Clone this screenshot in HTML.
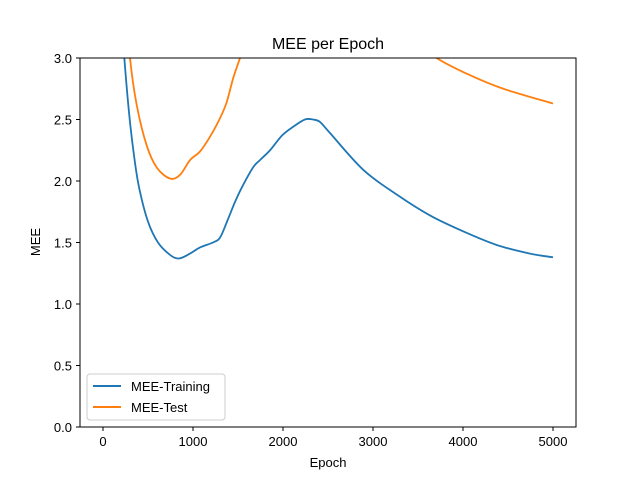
<!DOCTYPE html>
<html><head><meta charset="utf-8"><style>body{margin:0;background:#fff}svg{display:block;font-family:"Liberation Sans",sans-serif}</style></head>
<body>
<svg id="c" width="640" height="480">
<defs><clipPath id="clip"><rect x="80" y="58" width="496" height="369"/></clipPath></defs>
<rect x="0" y="0" width="640" height="480" fill="#fff"/>
<text x="328" y="49" font-size="16" text-anchor="middle">MEE per Epoch</text>
<g id="lines" clip-path="url(#clip)"></g>
<rect x="80" y="58" width="496" height="369" fill="none" stroke="#000" stroke-width="1"/>
<g id="axes"></g>
<text x="328" y="467" font-size="13" text-anchor="middle">Epoch</text>
<text x="40" y="242" font-size="13" text-anchor="middle" transform="rotate(-90 40 242)">MEE</text>
<g>
<rect x="87" y="374" width="138" height="46" rx="3" fill="#fff" fill-opacity="0.8" stroke="#ccc"/>
<line x1="93" y1="386" x2="121" y2="386" stroke="#1f77b4" stroke-width="2"/>
<text x="131" y="391" font-size="13">MEE-Training</text>
<line x1="93" y1="407" x2="121" y2="407" stroke="#ff7f0e" stroke-width="2"/>
<text x="131" y="412" font-size="13">MEE-Test</text>
</g>
</svg>
<script>
const trainEpochs=[200,237,290,344,400,500,611,744,844,967,1078,1222,1300,1378,1467,1544,1667,1744,1856,1989,2111,2244,2333,2411,2522,2893,3263,3633,4004,4374,4744,5000];
const trainValues=[3.4,3.0,2.55,2.21,1.95,1.67,1.50,1.40,1.37,1.41,1.46,1.50,1.54,1.67,1.83,1.95,2.11,2.17,2.25,2.37,2.44,2.50,2.50,2.48,2.39,2.09,1.89,1.72,1.59,1.48,1.41,1.38];
const testEpochs=[250,300,374,485,597,744,856,967,1078,1189,1300,1374,1448,1522,1650,2000,2600,3300,3707,4078,4448,5000];
const testValues=[3.5,3.0,2.62,2.29,2.11,2.02,2.05,2.17,2.24,2.36,2.51,2.64,2.84,3.0,3.3,3.75,3.6,3.22,3.0,2.86,2.75,2.63];
const xTicks=[0,1000,2000,3000,4000,5000];
const yTicks=[0.0,0.5,1.0,1.5,2.0,2.5,3.0];
const X=v=>103+v*0.09, Y=v=>427-v*123;
const ns="http://www.w3.org/2000/svg";
const lines=document.getElementById('lines'), axes=document.getElementById('axes');
function line(xs,ys,color,name){
const P=xs.map((x,i)=>[X(x),Y(ys[i])]);
let d='M'+P[0][0]+','+P[0][1];
for(let i=0;i<P.length-1;i++){const p0=P[Math.max(0,i-1)],p1=P[i],p2=P[i+1],p3=P[Math.min(P.length-1,i+2)];
const c1=[p1[0]+(p2[0]-p0[0])/6,p1[1]+(p2[1]-p0[1])/6],c2=[p2[0]-(p3[0]-p1[0])/6,p2[1]-(p3[1]-p1[1])/6];
d+=' C'+c1+' '+c2+' '+p2;}
const p=document.createElementNS(ns,'path');
p.setAttribute('d',d);
p.setAttribute('fill','none');p.setAttribute('stroke',color);p.setAttribute('stroke-width','1.8');p.setAttribute('stroke-linejoin','round');


lines.appendChild(p);}
line(trainEpochs,trainValues,'#1f77b4','training-line');
line(testEpochs,testValues,'#ff7f0e','test-line');
xTicks.forEach(t=>{const l=document.createElementNS(ns,'line');l.setAttribute('x1',X(t));l.setAttribute('x2',X(t));l.setAttribute('y1',427);l.setAttribute('y2',431);l.setAttribute('stroke','#000');


axes.appendChild(l);
const s=document.createElementNS(ns,'text');s.setAttribute('x',X(t));s.setAttribute('y',446);s.setAttribute('font-size','13');s.setAttribute('text-anchor','middle');s.textContent=t;


axes.appendChild(s);});
yTicks.forEach(t=>{const l=document.createElementNS(ns,'line');l.setAttribute('x1',76);l.setAttribute('x2',80);l.setAttribute('y1',Y(t));l.setAttribute('y2',Y(t));l.setAttribute('stroke','#000');


axes.appendChild(l);
const s=document.createElementNS(ns,'text');s.setAttribute('x',72);s.setAttribute('y',Y(t)+5);s.setAttribute('font-size','13');s.setAttribute('text-anchor','end');s.textContent=t.toFixed(1);


axes.appendChild(s);});
</script>
</body></html>
